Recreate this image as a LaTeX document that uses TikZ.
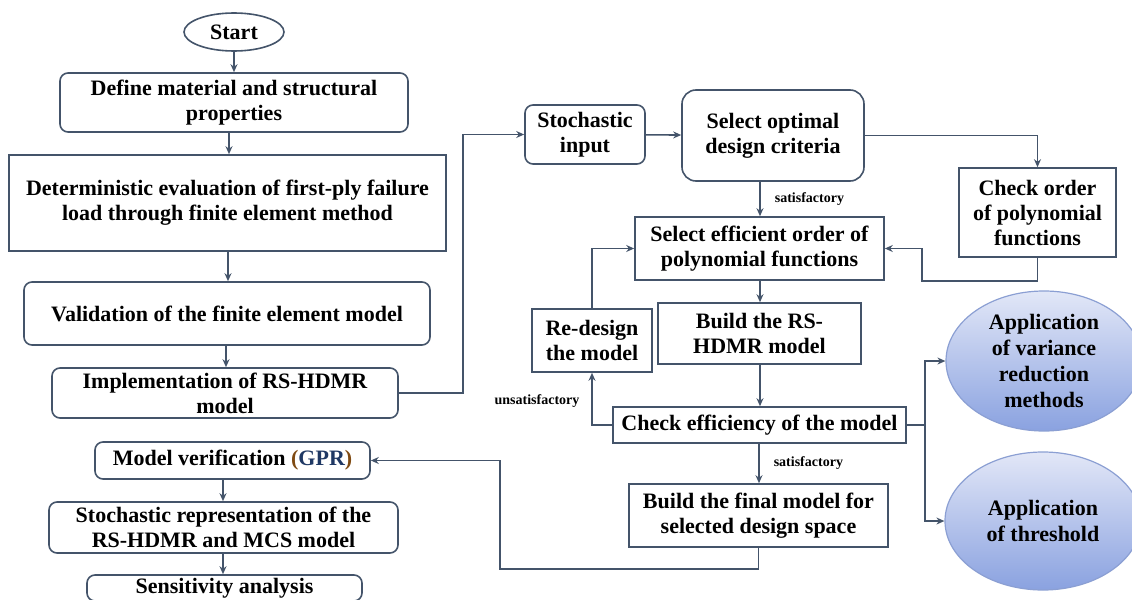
\documentclass[tikz,border=0pt]{standalone}
\usepackage{fontspec}
\setmainfont{Liberation Serif}
\usetikzlibrary{shapes.geometric,arrows.meta}
\definecolor{linec}{HTML}{44546A}
\definecolor{ellline}{HTML}{8B9FD3}
\definecolor{elltop}{HTML}{E2E7F7}
\definecolor{ellbot}{HTML}{8AA2E0}
\definecolor{gprblue}{HTML}{1F3864}
\definecolor{gprparen}{HTML}{7F4A12}
\begin{document}
\begin{tikzpicture}[x=0.5pt, y=-0.5pt,
  font=\fontsize{11}{12.5}\selectfont\bfseries,
  box/.style={draw=linec, line width=0.8pt, align=center, inner sep=1pt},
  rbox/.style={box, rounded corners=4pt},
  bubble/.style={ellipse, draw=ellline, line width=0.6pt, top color=elltop, bottom color=ellbot, align=center, inner sep=0pt, font=\fontsize{11}{13}\selectfont\bfseries},
  arr/.style={draw=linec, line width=0.8pt, -{Stealth[length=4pt, width=3.5pt]}},
  lne/.style={draw=linec, line width=0.8pt},
  lbl/.style={font=\fontsize{7}{8}\selectfont\bfseries, inner sep=1pt}]
  \useasboundingbox (0,0) rectangle (1132,600);

  \node[ellipse, draw=linec, line width=0.8pt, minimum width=50pt, minimum height=19pt, inner sep=0pt] (start) at (234,32) {Start};
  \node[rbox, minimum width=174pt, minimum height=29.5pt] (define) at (234,102.5) {Define material and structural\\properties};
  \node[box, minimum width=218.5pt, minimum height=48pt] (determ) at (227.5,203) {Deterministic evaluation of first-ply failure\\load through finite element method};
  \node[rbox, minimum width=203pt, minimum height=31.5pt] (valid) at (227,313.5) {Validation of the finite element model};
  \node[rbox, minimum width=173pt, minimum height=25pt] (impl) at (225,393) {Implementation of RS-HDMR\\model};
  \node[rbox, minimum width=137.5pt, minimum height=18.5pt] (verif) at (232.5,460.5) {Model verification \textcolor{gprparen}{(}\textcolor{gprblue}{GPR}\textcolor{gprparen}{)}};
  \node[rbox, minimum width=174.5pt, minimum height=25.5pt] (stochrep) at (223.5,527.5) {Stochastic representation of the\\RS-HDMR and MCS model};
  \node[rbox, minimum width=137.5pt, inner ysep=1.5pt] (sens) at (224.5,588) {Sensitivity analysis};

  \node[rbox, minimum width=60pt, minimum height=29.5pt] (stin) at (585,134.5) {Stochastic\\input};
  \node[box, rounded corners=7pt, minimum width=91pt, minimum height=45.5pt] (selopt) at (773,135.5) {Select optimal\\design criteria};
  \node[box, minimum width=78.5pt, minimum height=44.5pt] (chkord) at (1037.5,212.5) {Check order\\of polynomial\\functions};
  \node[box, minimum width=124.5pt, minimum height=31.5pt] (seleff) at (759.5,248.5) {Select efficient order of\\polynomial functions};
  \node[box, minimum width=60pt, minimum height=31.5pt] (redes) at (592,340.5) {Re-design\\the model};
  \node[box, minimum width=101.5pt, minimum height=30.5pt] (build) at (759.5,333.5) {Build the RS-\\HDMR model};
  \node[box, minimum width=146.5pt, minimum height=18pt] (chkeff) at (759.5,425) {Check efficiency of the model};
  \node[box, minimum width=129.5pt, minimum height=31.5pt] (final) at (758.5,515.5) {Build the final model for\\selected design space};
  \node[bubble, minimum width=98pt, minimum height=70pt] (varred) at (1044,361) {Application\\of variance\\reduction\\methods};
  \node[bubble, minimum width=98pt, minimum height=69pt] (thresh) at (1043,521) {Application\\of threshold};

  \coordinate (jimpl) at (463,393);
  \coordinate (jord) at (922,281);
  \coordinate (jfin) at (500,569);
  \coordinate (jeff) at (925,425);

  \draw[arr] (start) -- (define);
  \draw[arr] (define.south -| 229,0) -- (determ.north -| 229,0);
  \draw[arr] (determ.south -| 228,0) -- (valid.north -| 228,0);
  \draw[arr] (valid.south -| 226,0) -- (impl.north -| 226,0);
  \draw[arr] (verif.south -| 223,0) -- (stochrep.north -| 223,0);
  \draw[arr] (stochrep.south -| 223,0) -- (sens.north -| 223,0);

  \draw[arr] (impl.east) -- (jimpl) |- (stin.west);
  \draw[arr] (stin) -- (selopt);
  \draw[arr] (selopt.east) -| (chkord.north);
  \draw[arr] (selopt.south -| 760,0) -- (seleff.north -| 760,0) node[lbl, midway, right=6pt] {satisfactory};
  \draw[arr] (chkord.south) |- (jord) |- (seleff.east);
  \draw[arr] (seleff.south -| 760,0) -- (build.north -| 760,0);
  \draw[arr] (build.south -| 760,0) -- (chkeff.north -| 760,0);
  \draw[arr] (chkeff.west) -| (redes.south);
  \node[lbl] (unsat) at (537,401) {unsatisfactory};
  \draw[arr] (redes.north) |- (seleff.west);
  \draw[arr] (chkeff.south -| 759,0) -- (final.north -| 759,0) node[lbl, midway, right=6pt] {satisfactory};
  \draw[arr] (final.south) |- (jfin) |- (verif.east);
  \draw[lne] (chkeff.east) -- (jeff);
  \draw[arr] (jeff) |- (varred.west);
  \draw[arr] (jeff) |- (thresh.west);
\end{tikzpicture}
\end{document}
